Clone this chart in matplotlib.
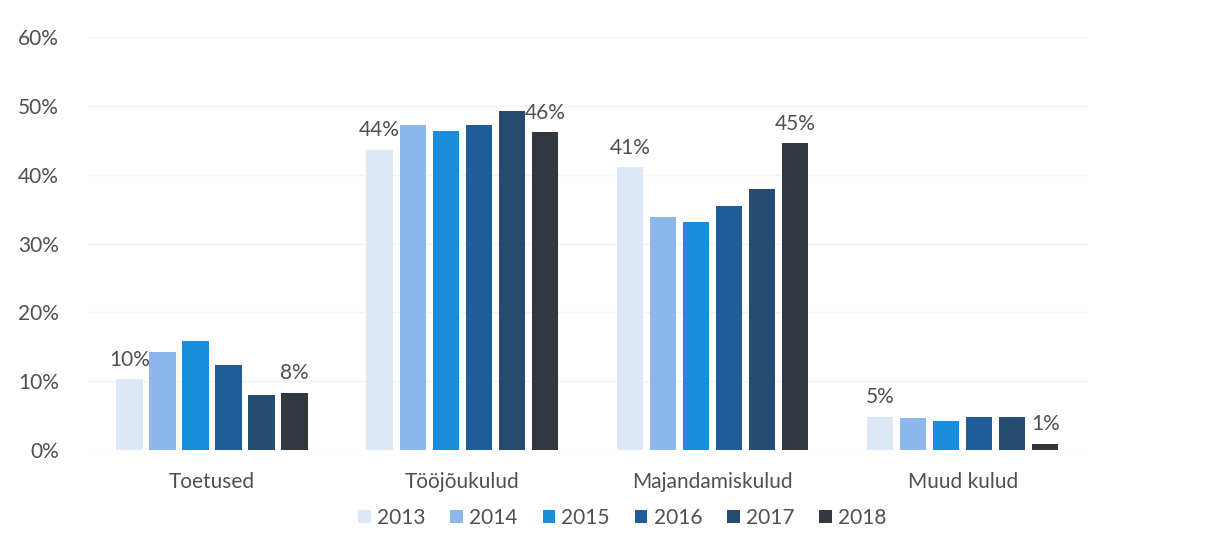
import matplotlib.pyplot as plt
import numpy as np

plt.rcParams['font.family'] = ['Lato', 'DejaVu Sans']

categories = ["Toetused", "Tööjõukulud", "Majandamiskulud", "Muud kulud"]
years = ["2013", "2014", "2015", "2016", "2017", "2018"]
shares = {
    "2013": [10.3, 43.6, 41.1, 4.8],
    "2014": [14.2, 47.2, 33.9, 4.7],
    "2015": [15.8, 46.4, 33.1, 4.2],
    "2016": [12.4, 47.2, 35.5, 4.8],
    "2017": [8.0, 49.3, 37.9, 4.8],
    "2018": [8.3, 46.2, 44.6, 0.9],
}
colors = ["#dde8f7", "#8cb7ea", "#1b8ddd", "#1f5c9a", "#264b70", "#32383f"]

fig = plt.figure(figsize=(12.06, 5.39), dpi=100)
ax = fig.add_axes([0.072, 0.165, 0.830, 0.766])

x = np.arange(len(categories))
step = 0.132
width = 0.105
for i, yr in enumerate(years):
    pos = x + (i - 2.5) * step
    vals = shares[yr]
    ax.bar(pos, vals, width, color=colors[i], label=yr, zorder=2)
    # labels only on first and last year
    if yr in ("2013", "2018"):
        for p, v in zip(pos, vals):
            ax.text(p, v + 1.4, "%d%%" % round(v), ha="center", va="bottom",
                    fontsize=15, color="#505050")

ax.set_xlim(-0.5, 3.5)
ax.set_ylim(0, 60)
ax.set_yticks(np.arange(0, 61, 10))
ax.set_yticklabels(["%d%%" % t for t in range(0, 61, 10)])
ax.set_xticks(x)
ax.set_xticklabels(categories)
ax.tick_params(axis="both", length=0, labelsize=15, colors="#505050")
ax.tick_params(axis="y", pad=20)
ax.tick_params(axis="x", pad=16)
ax.yaxis.grid(True, color="#f3f3f3", lw=1, zorder=0)
for s in ax.spines.values():
    s.set_visible(False)

ax.legend(loc="upper center", bbox_to_anchor=(0.535, -0.095), ncol=6, frameon=False,
          fontsize=15, handlelength=0.6, handleheight=0.6, handletextpad=0.3,
          columnspacing=1.2, labelcolor="#505050")

fig.savefig("out.png", dpi=100, facecolor="white")
